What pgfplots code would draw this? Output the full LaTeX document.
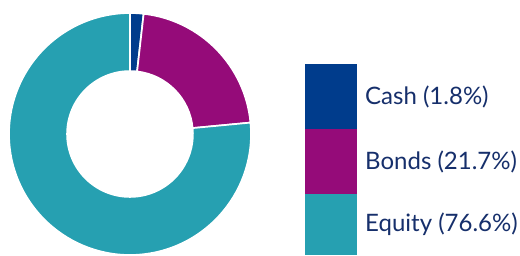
\documentclass[border=0pt]{standalone}
\usepackage{pgfplots}
\pgfplotsset{compat=1.18}
\usepackage{pgfplotstable}
\usepackage{fontspec}
\setmainfont{Lato}
\definecolor{cashc}{HTML}{003C8C}
\definecolor{bondc}{HTML}{950B79}
\definecolor{equic}{HTML}{26A0B1}
\definecolor{txtc}{HTML}{162F6B}
\pgfplotstableread{
label value
Cash 1.8
Bonds 21.7
Equity 76.6
}\alloc
\pgfplotstablegetelem{0}{value}\of\alloc \let\vCash\pgfplotsretval
\pgfplotstablegetelem{1}{value}\of\alloc \let\vBonds\pgfplotsretval
\pgfplotstablegetelem{2}{value}\of\alloc \let\vEquity\pgfplotsretval
\pgfmathsetmacro\aA{90}
\pgfmathsetmacro\aB{90-3.6*\vCash}
\pgfmathsetmacro\aC{\aB-3.6*\vBonds}
\pgfmathsetmacro\aD{-270}
\def\rin{0.52}
\newcommand\slice[3]{%
  \fill[#3,draw=white,line width=1.7pt] (axis cs:{cos(#1)},{sin(#1)}) arc[start angle=#1,end angle=#2,radius=121pt]
   -- (axis cs:{\rin*cos(#2)},{\rin*sin(#2)}) arc[start angle=#2,end angle=#1,radius={\rin*121pt}] -- cycle;}
\begin{document}
\begin{tikzpicture}[x=1pt,y=1pt]
\useasboundingbox (0,0) rectangle (520,255);
\begin{axis}[at={(130pt,121pt)},anchor=center,scale only axis,width=242pt,height=242pt,
  xmin=-1,xmax=1,ymin=-1,ymax=1,hide axis,clip=false]
\slice{\aA}{\aB}{cashc}
\slice{\aB}{\aC}{bondc}
\slice{\aC}{\aD}{equic}
\end{axis}
\fill[cashc] (305,126) rectangle (357,191);
\fill[bondc] (305,61) rectangle (357,126);
\fill[equic] (305,0) rectangle (357,61);
\begin{scope}[every node/.style={anchor=west,text=txtc,inner sep=0pt,font=\fontsize{24}{28}\selectfont}]
\node at (365,158.5) {Cash (1.8\%)};
\node at (365,93.5) {Bonds (21.7\%)};
\node at (365,30.5) {Equity (76.6\%)};
\end{scope}
\end{tikzpicture}
\end{document}
